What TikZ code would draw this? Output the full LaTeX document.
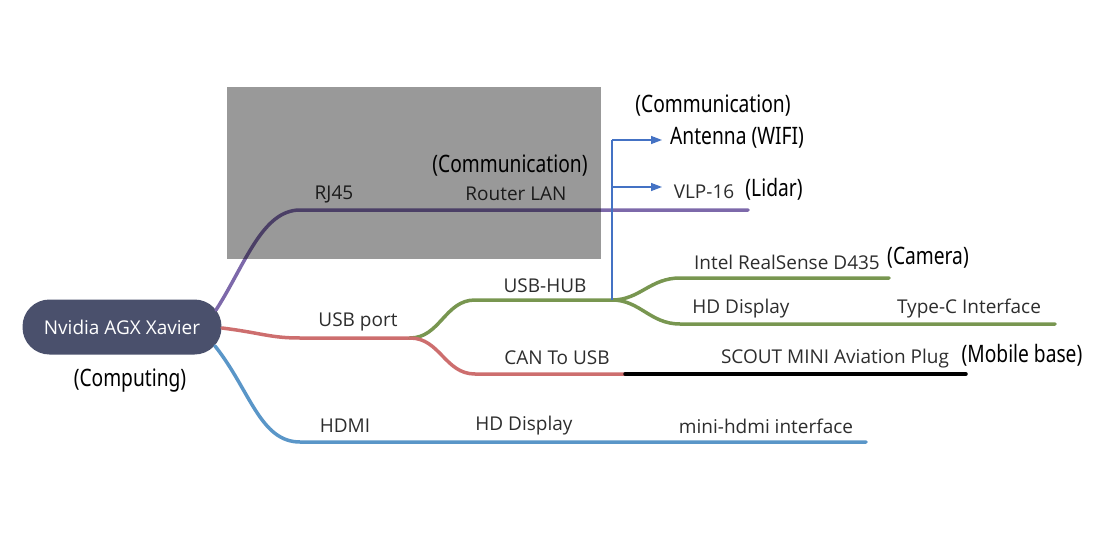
\documentclass[tikz,border=0pt]{standalone}
\usepackage{fontspec}
\setmainfont{Open Sans}
\newfontfamily\notefont[FakeStretch=0.8]{Noto Sans}
\usetikzlibrary{arrows.meta}
\definecolor{rootfill}{RGB}{74,80,108}
\definecolor{rjcol}{RGB}{125,105,170}
\definecolor{usbcol}{RGB}{205,110,110}
\definecolor{hubcol}{RGB}{120,150,80}
\definecolor{hdmicol}{RGB}{90,150,200}
\definecolor{feedcol}{RGB}{68,114,196}
\definecolor{lblgray}{RGB}{45,45,45}
\begin{document}
\begin{tikzpicture}[x=1pt,y=-1pt,
  branch/.style={line width=3.5pt, line cap=round},
  lbl/.style={font=\fontsize{19}{22}\selectfont, text=lblgray, inner sep=0pt},
  note/.style={font=\notefont\fontsize{24}{28}\selectfont, inner sep=0pt},
  feed/.style={draw=feedcol, line width=1.4pt}]
  \useasboundingbox (0,0) rectangle (1119,538);

  % root
  \node[fill=rootfill, text=white, rounded corners=27pt, minimum width=199pt,
        minimum height=55pt, font=\fontsize{19}{22}\selectfont] (xavier) at (122,327) {Nvidia AGX Xavier};
  \node[note] (computing) at (130,381) {(Computing)};

  % RJ45 branch
  \coordinate (rjStart) at (216,310);
  \coordinate (rjBend) at (300,210);
  \coordinate (rjEnd) at (748,210);
  \draw[branch, rjcol] (rjStart) .. controls (245,265) and (262,210) .. (rjBend) -- (rjEnd);
  \node[lbl] (rj) at (334,194) {RJ45};
  \node[lbl] (router) at (516,194) {Router LAN};
  \node[note] (commA) at (510,166) {(Communication)};

  % USB branch
  \coordinate (usbStart) at (222,328);
  \coordinate (usbSplit) at (410,338);
  \coordinate (hubSplit) at (612,300);
  \coordinate (canJoin) at (625,374);
  \coordinate (canEnd) at (966,374);
  \draw[branch, usbcol] (usbStart) .. controls (262,333) and (270,338) .. (300,338) -- (usbSplit);
  \draw[branch, hubcol] (usbSplit) .. controls (440,338) and (445,300) .. (475,300) -- (hubSplit);
  \draw[branch, usbcol] (usbSplit) .. controls (440,338) and (445,374) .. (475,374) -- (canJoin);
  \draw[branch, black] (canJoin) -- (canEnd);
  \node[lbl] (usb) at (358,322) {USB port};
  \node[lbl] (hub) at (545,286) {USB-HUB};
  \node[lbl] (can) at (557,358) {CAN To USB};
  \node[lbl] (scout) at (835,359) {SCOUT MINI Aviation Plug};
  \node[note] (mobile) at (1022,355) {(Mobile base)};

  % USB-HUB leaves
  \coordinate (camEnd) at (889,278);
  \coordinate (typecEnd) at (1055,324);
  \draw[branch, hubcol] (hubSplit) .. controls (640,300) and (650,278) .. (680,278) -- (camEnd);
  \draw[branch, hubcol] (hubSplit) .. controls (640,300) and (650,324) .. (680,324) -- (typecEnd);
  \node[lbl] (realsense) at (787,262) {Intel RealSense D435};
  \node[note] (camera) at (928,258) {(Camera)};
  \node[lbl] (displayA) at (741,309) {HD Display};
  \node[lbl] (typec) at (969,309) {Type-C Interface};

  % HDMI branch
  \coordinate (hdmiStart) at (215,346);
  \coordinate (hdmiEnd) at (866,442);
  \draw[branch, hdmicol] (hdmiStart) .. controls (250,390) and (260,442) .. (300,442) -- (hdmiEnd);
  \node[lbl] (hdmi) at (345,426) {HDMI};
  \node[lbl] (displayB) at (524,426) {HD Display};
  \node[lbl] (minihdmi) at (766,426) {mini-hdmi interface};

  % hub feeds
  \coordinate (feedTop) at (612,140);
  \coordinate (feedMid) at (612,187);
  \draw[feed] (hubSplit) -- (feedTop);
  \draw[feed, -{Triangle[length=11pt,width=8pt]}] (feedTop) -- (662,140);
  \draw[feed, -{Triangle[length=11pt,width=8pt]}] (feedMid) -- (662,187);
  \node[note] (commB) at (713,106) {(Communication)};
  \node[note] (antenna) at (737,138) {Antenna (WIFI)};
  \node[lbl] (vlp) at (704,192) {VLP-16};
  \node[note] (lidar) at (774,189) {(Lidar)};

  % overlay
  \fill[black, opacity=0.4] (227,87) rectangle (601,259);
\end{tikzpicture}
\end{document}
